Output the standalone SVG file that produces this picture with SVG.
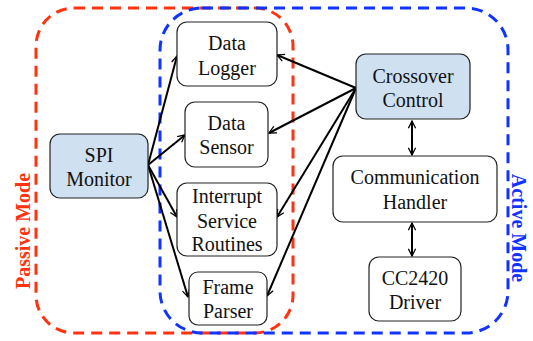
<svg xmlns="http://www.w3.org/2000/svg" width="533" height="341" viewBox="0 0 533 341">
<defs>
<marker id="ah" viewBox="0 0 10 10" refX="9" refY="5" markerWidth="9" markerHeight="9" markerUnits="userSpaceOnUse" orient="auto-start-reverse">
<path d="M1,1 L9,5 L1,9" fill="none" stroke="#000" stroke-width="1.4"/>
</marker>
<style>
.n{fill:#fff;stroke:#222;stroke-width:1.2}
.b{fill:#cfe0f1;stroke:#222;stroke-width:1.2}
.t{font-family:'Liberation Serif','Times New Roman',serif;font-size:20px;fill:#111;text-anchor:middle}
.c line{stroke:#000;stroke-width:2;marker-end:url(#ah)}
.m{font-family:'Liberation Serif','Times New Roman',serif;font-size:20px;font-weight:bold;text-anchor:middle}
</style>
</defs>
<g id="passive-mode">
<rect x="36" y="8" width="257" height="325" rx="38" fill="none" stroke="#ff3311" stroke-width="3" stroke-dasharray="11,7"/>
<text class="m" fill="#ff3311" transform="translate(30,231) rotate(-90)">Passive Mode</text>
</g>
<g id="active-mode">
<rect x="160" y="8" width="348" height="325" rx="42" fill="none" stroke="#1133ff" stroke-width="3" stroke-dasharray="11,7"/>
<text class="m" fill="#1133ff" transform="translate(512,228) rotate(90)">Active Mode</text>
</g>
<g class="c" id="connectors">
<line x1="148" y1="165" x2="177" y2="56"/>
<line x1="148" y1="165" x2="185" y2="135"/>
<line x1="148" y1="165" x2="177" y2="217"/>
<line x1="148" y1="165" x2="188" y2="297"/>
<line x1="356" y1="88" x2="277" y2="55"/>
<line x1="356" y1="88" x2="269" y2="133"/>
<line x1="356" y1="88" x2="277" y2="217"/>
<line x1="356" y1="88" x2="267" y2="296"/>
<line x1="412" y1="121" x2="412" y2="155" marker-start="url(#ah)"/>
<line x1="412" y1="223" x2="412" y2="256" marker-start="url(#ah)"/>
</g>
<g id="data-logger"><rect class="n" x="177" y="22" width="100" height="64" rx="10"/><text class="t" x="227" y="50">Data</text><text class="t" x="227" y="75">Logger</text></g>
<g id="data-sensor"><rect class="n" x="185" y="102" width="83" height="65" rx="10"/><text class="t" x="226.5" y="130">Data</text><text class="t" x="226.5" y="154">Sensor</text></g>
<g id="spi-monitor"><rect class="b" x="50" y="134" width="98" height="64" rx="10"/><text class="t" x="99" y="162">SPI</text><text class="t" x="99" y="186">Monitor</text></g>
<g id="isr"><rect class="n" x="177" y="183" width="100" height="73" rx="10"/><text class="t" x="227" y="203">Interrupt</text><text class="t" x="227" y="228">Service</text><text class="t" x="227" y="251">Routines</text></g>
<g id="frame-parser"><rect class="n" x="189" y="272" width="78" height="53" rx="9"/><text class="t" x="228" y="294">Frame</text><text class="t" x="228" y="318">Parser</text></g>
<g id="crossover-control"><rect class="b" x="356" y="54" width="114" height="65" rx="10"/><text class="t" x="413" y="83">Crossover</text><text class="t" x="413" y="107">Control</text></g>
<g id="communication-handler"><rect class="n" x="333" y="156" width="164" height="66" rx="10"/><text class="t" x="415" y="184">Communication</text><text class="t" x="415" y="209">Handler</text></g>
<g id="cc2420-driver"><rect class="n" x="369" y="257" width="92" height="64" rx="10"/><text class="t" x="415" y="285">CC2420</text><text class="t" x="415" y="309">Driver</text></g>
</svg>
